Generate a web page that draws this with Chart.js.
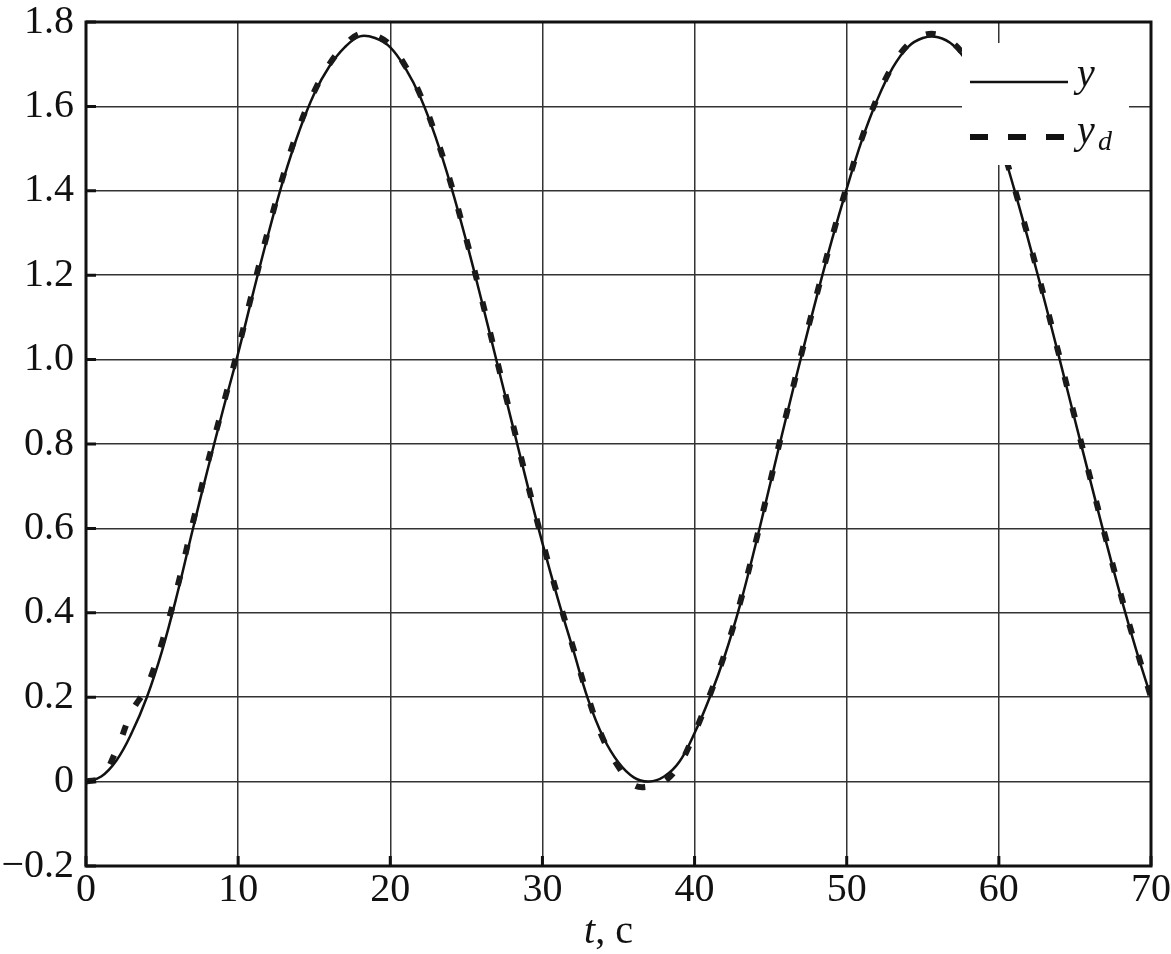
<!DOCTYPE html>
<html>
<head>
<meta charset="utf-8">
<script src="https://cdn.jsdelivr.net/npm/chart.js@4"></script>
<style>
  html, body { margin: 0; padding: 0; background: #fff; }
  #wrap { width: 1171px; height: 954px; position: relative; }
</style>
</head>
<body>
<div id="wrap"><canvas id="myChart"></canvas></div>
<script>
// time, s
const tValues = [
  0, 1, 2, 3, 4, 5, 6, 7, 8, 9,
  10, 11, 12, 13, 14, 15, 16, 17, 18, 19,
  20, 21, 22, 23, 24, 25, 26, 27, 28, 29,
  30, 31, 32, 33, 34, 35, 36, 37, 38, 39,
  40, 41, 42, 43, 44, 45, 46, 47, 48, 49,
  50, 51, 52, 53, 54, 55, 56, 57, 58, 59,
  60, 61, 62, 63, 64, 65, 66, 67, 68, 69, 70
]
// output y
const yValues = [
  0, 0.012, 0.05, 0.115, 0.2, 0.31, 0.445, 0.595, 0.74, 0.88,
  1.015, 1.16, 1.3, 1.43, 1.54, 1.63, 1.695, 1.74, 1.766, 1.762,
  1.74, 1.69, 1.62, 1.525, 1.41, 1.28, 1.14, 0.995, 0.85, 0.705,
  0.565, 0.435, 0.315, 0.195, 0.105, 0.045, 0.01, 0, 0.012, 0.047,
  0.115, 0.2, 0.3, 0.42, 0.56, 0.71, 0.86, 1.005, 1.145, 1.28,
  1.405, 1.52, 1.615, 1.69, 1.74, 1.762, 1.764, 1.745, 1.70, 1.625,
  1.525, 1.405, 1.275, 1.14, 1.0, 0.857, 0.715, 0.575, 0.44, 0.315, 0.2
]
// desired output y_d
const ydValues = [
  0, 0.01, 0.075, 0.165, 0.225, 0.33, 0.46, 0.61, 0.755, 0.89,
  1.025, 1.17, 1.31, 1.44, 1.55, 1.635, 1.70, 1.745, 1.772, 1.768,
  1.745, 1.695, 1.625, 1.53, 1.415, 1.285, 1.145, 1.0, 0.855, 0.71,
  0.57, 0.44, 0.32, 0.2, 0.1, 0.035, -0.008, -0.012, 0.0, 0.04,
  0.115, 0.205, 0.305, 0.425, 0.565, 0.715, 0.865, 1.01, 1.15, 1.285,
  1.41, 1.525, 1.62, 1.695, 1.745, 1.768, 1.77, 1.75, 1.705, 1.63,
  1.53, 1.41, 1.28, 1.145, 1.005, 0.862, 0.72, 0.58, 0.445, 0.32, 0.2
]
const xTicks = [0, 10, 20, 30, 40, 50, 60, 70]
const yTicks = [-0.2, 0, 0.2, 0.4, 0.6, 0.8, 1.0, 1.2, 1.4, 1.6, 1.8]

const serif = '"Liberation Serif", "Times New Roman", serif'

const toPoints = (ys) => tValues.map((t, i) => ({ x: t, y: ys[i] }))

// frame, legend and axis title
const decorPlugin = {
  id: 'decor',
  afterDatasetsDraw(chart) {
    const { ctx, chartArea } = chart
    const { left, right, top, bottom } = chartArea

    ctx.save()
    // legend box (white, covers grid and curves)
    const lx = right - 189
    const ly = top + 21
    ctx.fillStyle = '#fff'
    ctx.fillRect(lx, ly, 167, 122)

    ctx.strokeStyle = '#111'
    ctx.lineWidth = 2.5
    ctx.beginPath()
    ctx.moveTo(lx + 8, ly + 39)
    ctx.lineTo(lx + 106, ly + 39)
    ctx.stroke()

    ctx.lineWidth = 6
    ctx.setLineDash([18, 20])
    ctx.beginPath()
    ctx.moveTo(lx + 8, ly + 94)
    ctx.lineTo(lx + 106, ly + 94)
    ctx.stroke()
    ctx.setLineDash([])

    ctx.fillStyle = '#111'
    ctx.textAlign = 'left'
    ctx.textBaseline = 'alphabetic'
    ctx.font = 'italic 40px ' + serif
    ctx.fillText('y', lx + 115, ly + 43)
    ctx.fillText('y', lx + 115, ly + 100)
    ctx.font = 'italic 28px ' + serif
    ctx.fillText('d', lx + 136, ly + 107)

    // frame
    ctx.strokeStyle = '#111'
    ctx.lineWidth = 3
    ctx.strokeRect(left, top, right - left, bottom - top)

    // small inward ticks
    ctx.lineWidth = 3
    const xs = chart.scales.x
    const ys = chart.scales.y
    ctx.beginPath()
    xTicks.forEach((v) => {
      const px = xs.getPixelForValue(v)
      ctx.moveTo(px, bottom)
      ctx.lineTo(px, bottom - 10)
    })
    yTicks.forEach((v) => {
      const py = ys.getPixelForValue(v)
      ctx.moveTo(left, py)
      ctx.lineTo(left + 10, py)
    })
    ctx.stroke()

    // x axis title: "t, c"
    ctx.font = 'italic 40px ' + serif
    const w1 = ctx.measureText('t').width
    ctx.font = '40px ' + serif
    const w2 = ctx.measureText(', c').width
    let x0 = (left + right) / 2 - 10 - (w1 + w2) / 2
    ctx.font = 'italic 40px ' + serif
    ctx.fillText('t', x0, 943)
    ctx.font = '40px ' + serif
    ctx.fillText(', c', x0 + w1, 943)
    ctx.restore()
  }
}

const fmtY = (v) => {
  const r = Math.round(v * 10) / 10
  if (r === 0) return '0'
  if (r < 0) return '\u2212' + Math.abs(r).toFixed(1)
  return r.toFixed(1)
}

const ctx = document.getElementById('myChart').getContext('2d')

const config = {
  type: 'line',
  data: {
    datasets: [
      {
        label: 'y_d',
        data: toPoints(ydValues),
        borderColor: '#1a1a1a',
        borderWidth: 6,
        borderDash: [10, 22],
        pointRadius: 0,
        tension: 0.4,
      },
      {
        label: 'y',
        data: toPoints(yValues),
        borderColor: '#111',
        borderWidth: 2.5,
        pointRadius: 0,
        tension: 0.4,
      },
    ],
  },
  options: {
    responsive: true,
    maintainAspectRatio: false,
    animation: false,
    layout: {
      padding: { left: 0, top: 22, right: 20, bottom: 0 },
    },
    plugins: {
      legend: { display: false },
      tooltip: { enabled: false },
    },
    scales: {
      x: {
        type: 'linear',
        min: xTicks[0],
        max: xTicks[xTicks.length - 1],
        afterBuildTicks: (scale) => {
          scale.ticks = xTicks.map((v) => ({ value: v }))
        },
        afterFit: (scale) => {
          scale.height = 88
          scale.paddingLeft = 0
          scale.paddingRight = 0
        },
        grid: {
          color: '#333',
          lineWidth: 1.5,
          drawTicks: false,
        },
        border: { display: false },
        ticks: {
          color: '#111',
          padding: 4,
          maxRotation: 0,
          font: { family: serif, size: 40, lineHeight: 1 },
        },
      },
      y: {
        min: yTicks[0],
        max: yTicks[yTicks.length - 1],
        afterBuildTicks: (scale) => {
          scale.ticks = yTicks.map((v) => ({ value: v }))
        },
        afterFit: (scale) => {
          scale.width = 86
          scale.paddingTop = 0
          scale.paddingBottom = 0
        },
        grid: {
          color: '#333',
          lineWidth: 1.5,
          drawTicks: false,
        },
        border: { display: false },
        ticks: {
          color: '#111',
          padding: 12,
          callback: (v) => fmtY(v),
          font: { family: serif, size: 40, lineHeight: 1 },
        },
      },
    },
  },
  plugins: [decorPlugin],
}

const myChart = new Chart(ctx, config)
</script>
</body>
</html>
